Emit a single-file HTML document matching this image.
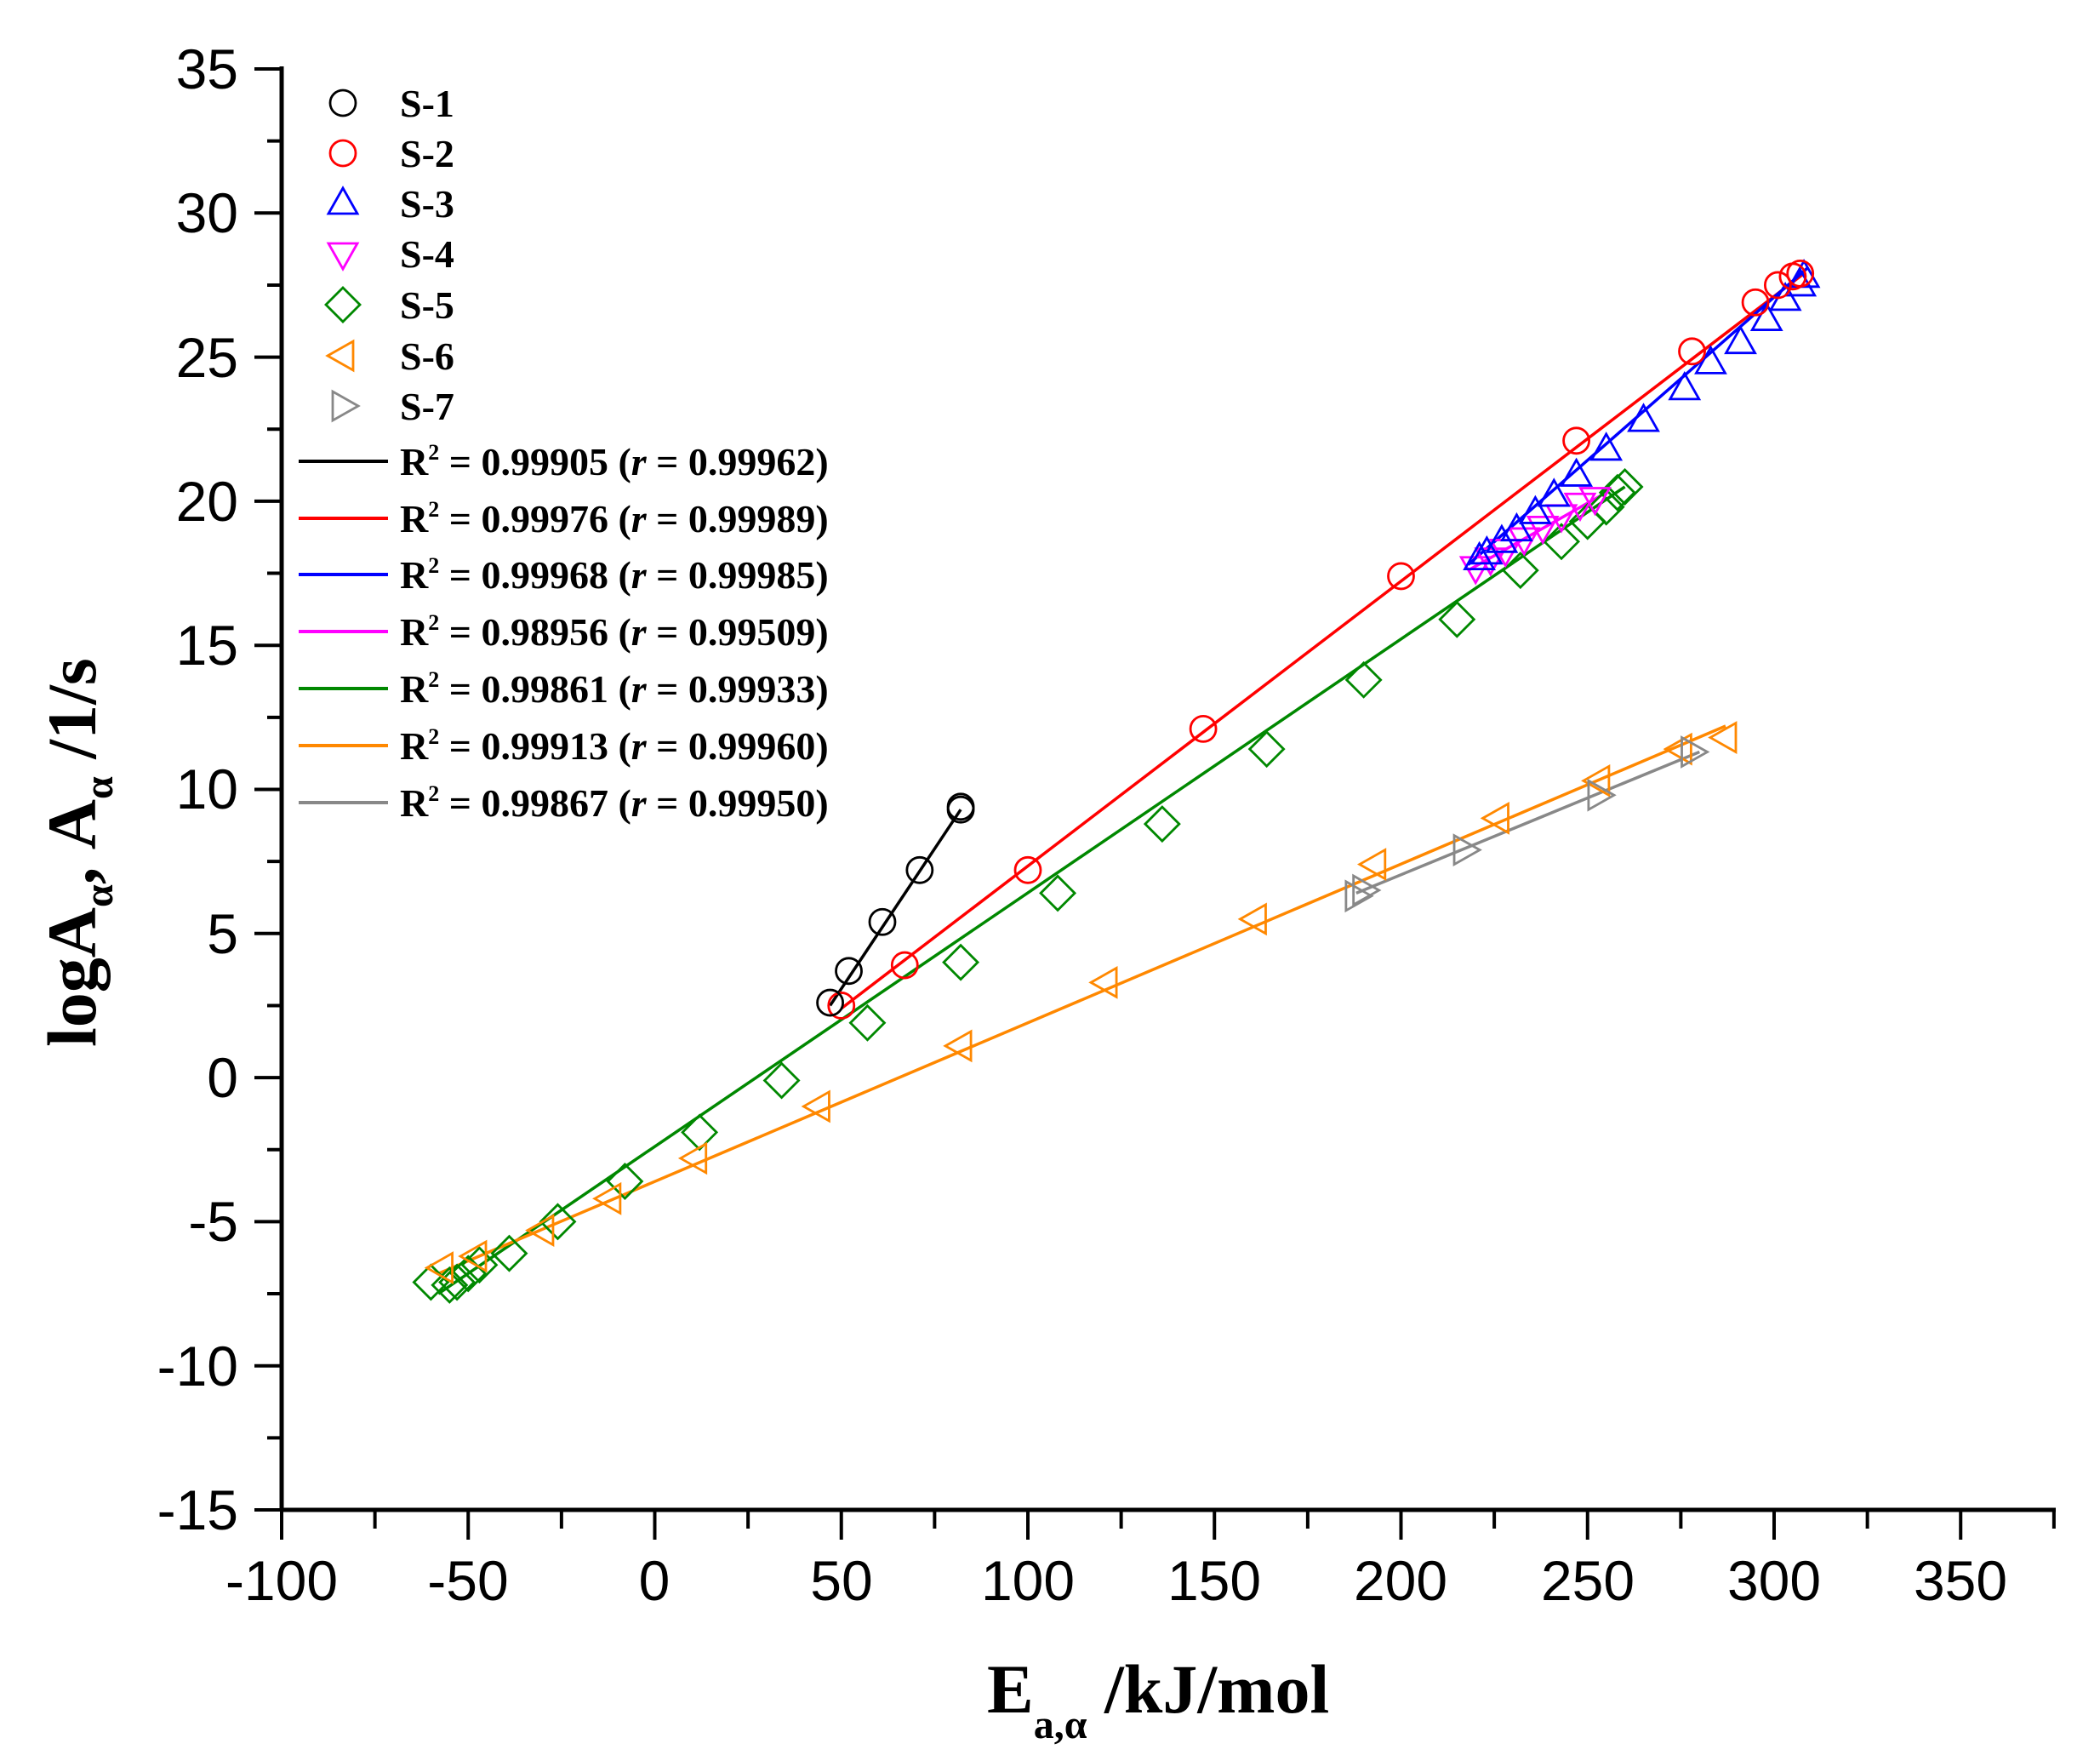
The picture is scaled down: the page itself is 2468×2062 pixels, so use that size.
<!DOCTYPE html>
<html><head><meta charset="utf-8"><style>
html,body{margin:0;padding:0;background:#fff;}
svg{display:block;}
.tk{font-family:"Liberation Sans",Arial,sans-serif;font-size:66px;fill:#000;}
.lg{font-family:"Liberation Serif",serif;font-weight:bold;font-size:46px;fill:#000;}
.ti{font-family:"Liberation Serif",serif;font-weight:bold;fill:#000;}
</style></head><body>
<svg id="s" width="2468" height="2062" viewBox="0 0 2468 2062" xmlns="http://www.w3.org/2000/svg">
<rect width="2468" height="2062" fill="#fff"/>
<g id="axes" stroke="#000" stroke-width="5" fill="none">
<line x1="331" y1="78" x2="331" y2="1776"/>
<line x1="329" y1="1774" x2="2416" y2="1774"/>
</g>
<g id="ticks" stroke="#000" stroke-width="4"></g>
<g class="tk" text-anchor="end">
<text x="280" y="104">35</text><text x="280" y="273">30</text><text x="280" y="443">25</text>
<text x="280" y="612">20</text><text x="280" y="781">15</text><text x="280" y="950">10</text>
<text x="280" y="1120">5</text><text x="280" y="1289">0</text><text x="280" y="1458">-5</text>
<text x="280" y="1628">-10</text><text x="280" y="1797">-15</text>
</g>
<g class="tk" text-anchor="middle">
<text x="331" y="1880">-100</text><text x="550" y="1880">-50</text><text x="769" y="1880">0</text>
<text x="989" y="1880">50</text><text x="1208" y="1880">100</text><text x="1427" y="1880">150</text>
<text x="1646" y="1880">200</text><text x="1866" y="1880">250</text><text x="2085" y="1880">300</text>
<text x="2304" y="1880">350</text>
</g>
<text class="ti" x="1160" y="2012" font-size="82">E<tspan font-size="48" dy="30">a,α</tspan><tspan dy="-30"> /kJ/mol</tspan></text>
<text class="ti" font-size="82" transform="translate(112,1230) rotate(-90)">logA<tspan font-size="48" dy="20">α</tspan><tspan dy="-20">, A</tspan><tspan font-size="48" dy="20">α</tspan><tspan dy="-20"> /1/s</tspan></text>
<g id="lines" stroke-width="3.5" fill="none"></g>
<g id="marks" stroke-width="2.8" fill="none"></g>
<g id="legend"></g>
<g class="lg">
<text x="470" y="137">S-1</text><text x="470" y="196">S-2</text><text x="470" y="255">S-3</text>
<text x="470" y="314">S-4</text><text x="470" y="374">S-5</text><text x="470" y="434">S-6</text>
<text x="470" y="493">S-7</text>
<text x="470" y="558">R<tspan font-size="26" dy="-18">2</tspan><tspan dy="18"> = 0.99905 (<tspan font-style="italic">r</tspan> = 0.99962)</tspan></text>
<text x="470" y="625">R<tspan font-size="26" dy="-18">2</tspan><tspan dy="18"> = 0.99976 (<tspan font-style="italic">r</tspan> = 0.99989)</tspan></text>
<text x="470" y="691">R<tspan font-size="26" dy="-18">2</tspan><tspan dy="18"> = 0.99968 (<tspan font-style="italic">r</tspan> = 0.99985)</tspan></text>
<text x="470" y="758">R<tspan font-size="26" dy="-18">2</tspan><tspan dy="18"> = 0.98956 (<tspan font-style="italic">r</tspan> = 0.99509)</tspan></text>
<text x="470" y="825">R<tspan font-size="26" dy="-18">2</tspan><tspan dy="18"> = 0.99861 (<tspan font-style="italic">r</tspan> = 0.99933)</tspan></text>
<text x="470" y="892">R<tspan font-size="26" dy="-18">2</tspan><tspan dy="18"> = 0.99913 (<tspan font-style="italic">r</tspan> = 0.99960)</tspan></text>
<text x="470" y="959">R<tspan font-size="26" dy="-18">2</tspan><tspan dy="18"> = 0.99867 (<tspan font-style="italic">r</tspan> = 0.99950)</tspan></text>
</g>
</svg>
<script>
var NS="http://www.w3.org/2000/svg";
function X(e){return 331+(e+100)*4.385;}
function Y(v){return 1774-(v+15)*33.86;}
function el(p,n,a){var e=document.createElementNS(NS,n);for(var k in a)e.setAttribute(k,a[k]);p.appendChild(e);return e;}
var tk=document.getElementById('ticks');
for(var v=-15;v<=35;v+=2.5){var big=(v%5===0);el(tk,'line',{x1:331-(big?32:17),y1:Y(v),x2:331,y2:Y(v)});}
for(var e=-100;e<=375;e+=25){var big=(e%50===0);el(tk,'line',{x1:X(e),y1:1774,x2:X(e),y2:1774+(big?35:22)});}
var C={1:'#000',2:'#f00',3:'#00f',4:'#f0f',5:'#080',6:'#f80',7:'#888'};
var S={
1:{m:'o',p:[[47,2.6],[52,3.7],[61,5.4],[71,7.2],[82,9.3],[82,9.4]],l:[[47,2.5],[82,9.3]]},
2:{m:'o',p:[[50,2.5],[67,3.9],[100,7.2],[147,12.1],[200,17.4],[247,22.1],[278,25.2],[295,26.9],[301,27.5],[305,27.8],[307,27.9]],l:[[50,2.4],[308,27.9]]},
3:{m:'u',p:[[221,18.0],[223,18.2],[227,18.6],[231,19.0],[236,19.6],[241,20.2],[247,20.9],[255,21.8],[265,22.8],[276,23.9],[283,24.8],[291,25.5],[298,26.3],[303,27.0],[307,27.5],[308,27.8]],l:[[218,17.8],[309,28.1]]},
4:{m:'d',p:[[220,17.7],[224,18.0],[228,18.3],[233,18.7],[238,19.1],[243,19.5],[248,19.9],[252,20.1]],l:[[218,17.6],[255,20.3]]},
5:{m:'D',p:[[-60,-7.1],[-55,-7.2],[-53,-7.1],[-50,-6.8],[-47,-6.5],[-39,-6.1],[-26,-5.0],[-8,-3.6],[12,-1.9],[34,-0.1],[57,1.9],[82,4.0],[108,6.4],[136,8.8],[164,11.4],[190,13.8],[215,15.9],[232,17.6],[243,18.6],[250,19.3],[255,19.8],[258,20.3],[260,20.5]],l:[[-58,-7.5],[260,20.5]]},
6:{m:'L',p:[[-57,-6.6],[-48,-6.2],[-30,-5.3],[-12,-4.2],[11,-2.8],[44,-1.0],[82,1.1],[121,3.3],[161,5.5],[193,7.4],[226,9.0],[253,10.3],[275,11.4],[287,11.8]],l:[[-58,-6.8],[287,12.2]]},
7:{m:'R',p:[[188,6.3],[190,6.5],[217,7.9],[253,9.8],[278,11.3]],l:[[188,6.4],[280,11.3]]}
};
var L=document.getElementById('lines'),M=document.getElementById('marks');
function mark(g,m,x,y,c){
 var r=15,a;
 if(m==='o'){el(g,'circle',{cx:x,cy:y,r:r,stroke:c});return;}
 if(m==='u')a=[[x,y-18],[x+17,y+12],[x-17,y+12]];
 if(m==='d')a=[[x,y+18],[x+17,y-12],[x-17,y-12]];
 if(m==='L')a=[[x-18,y],[x+12,y-17],[x+12,y+17]];
 if(m==='R')a=[[x+18,y],[x-12,y-17],[x-12,y+17]];
 if(m==='D')a=[[x,y-20],[x+20,y],[x,y+20],[x-20,y]];
 el(g,'polygon',{points:a.map(function(p){return p.join(',')}).join(' '),stroke:c});
}
for(var k=1;k<=7;k++){var s=S[k];
 el(L,'line',{x1:X(s.l[0][0]),y1:Y(s.l[0][1]),x2:X(s.l[1][0]),y2:Y(s.l[1][1]),stroke:C[k]});
}
[5,6,7,4,3,2,1].forEach(function(k){var s=S[k];s.p.forEach(function(p){mark(M,s.m,X(p[0]),Y(p[1]),C[k]);});});
var G=document.getElementById('legend');G.setAttribute('stroke-width','2.8');G.setAttribute('fill','none');
var ly=[121,180,239,298,358,418,477];
for(var k=1;k<=7;k++){mark(G,S[k].m,403,ly[k-1],C[k]);}
var ry=[542,609,675,742,809,876,943];
for(var k=1;k<=7;k++){el(G,'line',{x1:351,y1:ry[k-1],x2:456,y2:ry[k-1],stroke:C[k],'stroke-width':4});}
</script>
</body></html>
